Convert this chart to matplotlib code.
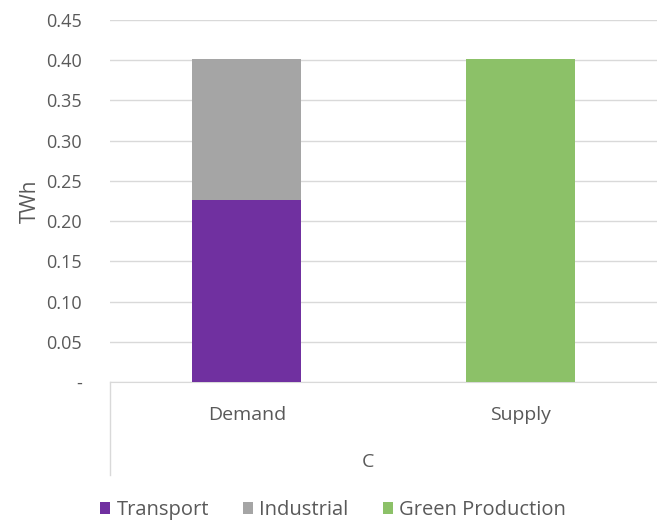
import matplotlib
matplotlib.use("Agg")
from matplotlib import pyplot as plt

categories = ["Demand", "Supply"]
group_label = "C"
transport = [0.226, 0.0]
industrial = [0.176, 0.0]
green = [0.0, 0.402]
yticks = [0, 0.05, 0.10, 0.15, 0.20, 0.25, 0.30, 0.35, 0.40, 0.45]

plt.rcParams['font.family'] = ['Open Sans', 'DejaVu Sans']
txt = '#595959'

fig = plt.figure(figsize=(6.57, 5.22), dpi=100)
ax = fig.add_axes([110/657, 1-382/522, (657-110)/657, (382-20)/522])

x = [0, 1]
ax.bar(x, transport, width=0.4, color='#7030A0', label='Transport', zorder=3)
ax.bar(x, industrial, width=0.4, bottom=transport, color='#A5A5A5', label='Industrial', zorder=3)
ax.bar(x, green, width=0.4, color='#8CC168', label='Green Production', zorder=3)

ax.set_xlim(-0.5, 1.5)
ax.set_ylim(0, 0.45)
ax.set_yticks(yticks)
ax.set_yticklabels(['-' if v == 0 else f'{v:.2f}' for v in yticks])
ax.set_xticks(x)
ax.set_xticklabels(categories)
ax.tick_params(axis='both', length=0, colors=txt)
ax.tick_params(axis='y', labelsize=13, pad=20)
ax.tick_params(axis='x', labelsize=14, pad=17)
ax.grid(axis='y', color='#D9D9D9', linewidth=1, zorder=0)
for s in ['top', 'right', 'left']:
    ax.spines[s].set_visible(False)
ax.spines['bottom'].set_color('#D9D9D9')

# category group line and label
ax.plot([0, 0], [0, -93/362], color='#D9D9D9', lw=1, clip_on=False,
        transform=ax.transAxes)
ax.text((368-110)/547, -80/362, group_label, ha='center', va='center',
        fontsize=14, color=txt, transform=ax.transAxes)

ax.set_ylabel('TWh', fontsize=15, color=txt, labelpad=4)

fig.legend(loc='center', bbox_to_anchor=(333/657, 1-510/522), ncol=3, frameon=False,
           fontsize=14.5, labelcolor=txt, handlelength=0.5, handleheight=0.5,
           handletextpad=0.3, columnspacing=1.7)

fig.savefig('out.png', dpi=100)
